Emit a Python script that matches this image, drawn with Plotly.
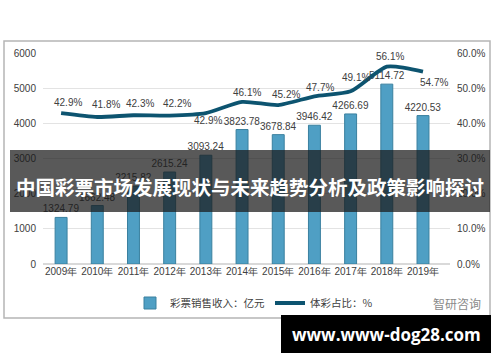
import plotly.graph_objects as go

years = ["2009年", "2010年", "2011年", "2012年", "2013年", "2014年",
         "2015年", "2016年", "2017年", "2018年", "2019年"]
sales = [1324.79, 1662.48, 2215.82, 2615.24, 3093.24, 3823.78,
         3678.84, 3946.42, 4266.69, 5114.72, 4220.53]
share = [42.9, 41.8, 42.3, 42.2, 42.9, 46.1, 45.2, 47.7, 49.1, 56.1, 54.7]

# label offsets (px) for the share labels
lab_dx = [7, 9, 7, 7, 2, 5, 8, 6, 5, 3, 11]
lab_dy = [11, 13, 12, 12, -7, 9, 11, 9, 14, 10, -11]

W, H = 500, 362
L, R, T, B = 43, 50, 53, 98
PW, PH = W - L - R, H - T - B

def fx(px):
    return (px - L) / PW

def fy(py):
    return (H - B - py) / PH

FONT = "Liberation Sans"

fig = go.Figure()
fig.add_trace(go.Bar(
    x=years, y=sales, name="彩票销售收入：亿元",
    marker=dict(color="#4f9fc4", line=dict(color="#3a809f", width=1)),
    width=0.33,
    text=[f"{v:.2f}" for v in sales], textposition="outside",
    constraintext="none",
    textfont=dict(size=10, color="#404040", family=FONT),
    cliponaxis=False,
))
fig.add_trace(go.Scatter(
    x=years, y=share, name="体彩占比：%", yaxis="y2",
    mode="lines", line=dict(color="#0d5470", width=3.8, shape="spline", smoothing=0.6),
    cliponaxis=False,
))

annotations = []
for i, (yr, v) in enumerate(zip(years, share)):
    annotations.append(dict(
        x=yr, y=v, xref="x", yref="y2", text=f"{v:.1f}%", showarrow=False,
        xanchor="center", yanchor="middle", xshift=lab_dx[i], yshift=lab_dy[i],
        font=dict(size=10, color="#404040", family=FONT)))

shapes = [
    dict(type="rect", xref="paper", yref="paper", x0=fx(4), x1=fx(490), y0=fy(318), y1=fy(41),
         line=dict(color="#b5b5b5", width=1.5), fillcolor="rgba(0,0,0,0)", layer="below"),
    dict(type="rect", xref="paper", yref="paper", x0=fx(10), x1=fx(490), y0=fy(212), y1=fy(150),
         line=dict(width=0), fillcolor="rgba(25,25,25,0.72)", layer="above"),
    dict(type="rect", xref="paper", yref="paper", x0=fx(281), x1=fx(491), y0=fy(353), y1=fy(315),
         line=dict(width=0), fillcolor="#000000", layer="above"),
]

annotations += [
    dict(text="<b>中国彩票市场发展现状与未来趋势分析及政策影响探讨</b>", xref="paper", yref="paper",
         x=fx(250), y=fy(186), showarrow=False, xanchor="center", yanchor="middle",
         font=dict(size=19.5, color="white", family="Noto Sans CJK SC")),
    dict(text="<b>www.www-dog28.com</b>", xref="paper", yref="paper",
         x=fx(386), y=fy(334), showarrow=False, xanchor="center", yanchor="middle",
         font=dict(size=17, color="white", family="Open Sans")),
    dict(text="智研咨询", xref="paper", yref="paper",
         x=fx(483), y=fy(303), showarrow=False, xanchor="right", yanchor="middle",
         font=dict(size=12, color="#8a8a8a", family="Noto Sans CJK SC")),
]

fig.update_layout(
    width=W, height=H,
    margin=dict(l=L, r=R, t=T, b=B, autoexpand=False),
    paper_bgcolor="white", plot_bgcolor="white",
    showlegend=True,
    legend=dict(orientation="h", x=fx(130), y=fy(303), xanchor="left", yanchor="middle",
                font=dict(size=10.5, color="#404040", family="Noto Sans CJK SC"),
                bgcolor="rgba(0,0,0,0)"),
    xaxis=dict(showgrid=False, showline=False, ticks="", tickangle=0, automargin=False,
               tickfont=dict(size=10, color="#404040", family=FONT)),
    yaxis=dict(range=[0, 6000], dtick=1000, showgrid=True, gridcolor="#e3e3e3", gridwidth=1,
               zeroline=True, zerolinecolor="#d9d9d9", showline=False, automargin=False,
               tickfont=dict(size=10, color="#404040", family=FONT), ticklabelstandoff=6),
    yaxis2=dict(range=[0, 60], dtick=10, overlaying="y", side="right", showgrid=False,
                zeroline=False, showline=False, tickformat=".1f", ticksuffix="%", automargin=False,
                tickfont=dict(size=10, color="#404040", family=FONT), ticklabelstandoff=6),
    shapes=shapes,
    annotations=annotations,
)

fig.write_html("out.html", config={"displayModeBar": False})

# remove default page margin so the figure sits at the window's corner
with open("out.html", "r", encoding="utf-8") as f:
    html = f.read()
html = html.replace("<head>", "<head><style>html,body{margin:0;padding:0;overflow:hidden;}</style>", 1)
with open("out.html", "w", encoding="utf-8") as f:
    f.write(html)
